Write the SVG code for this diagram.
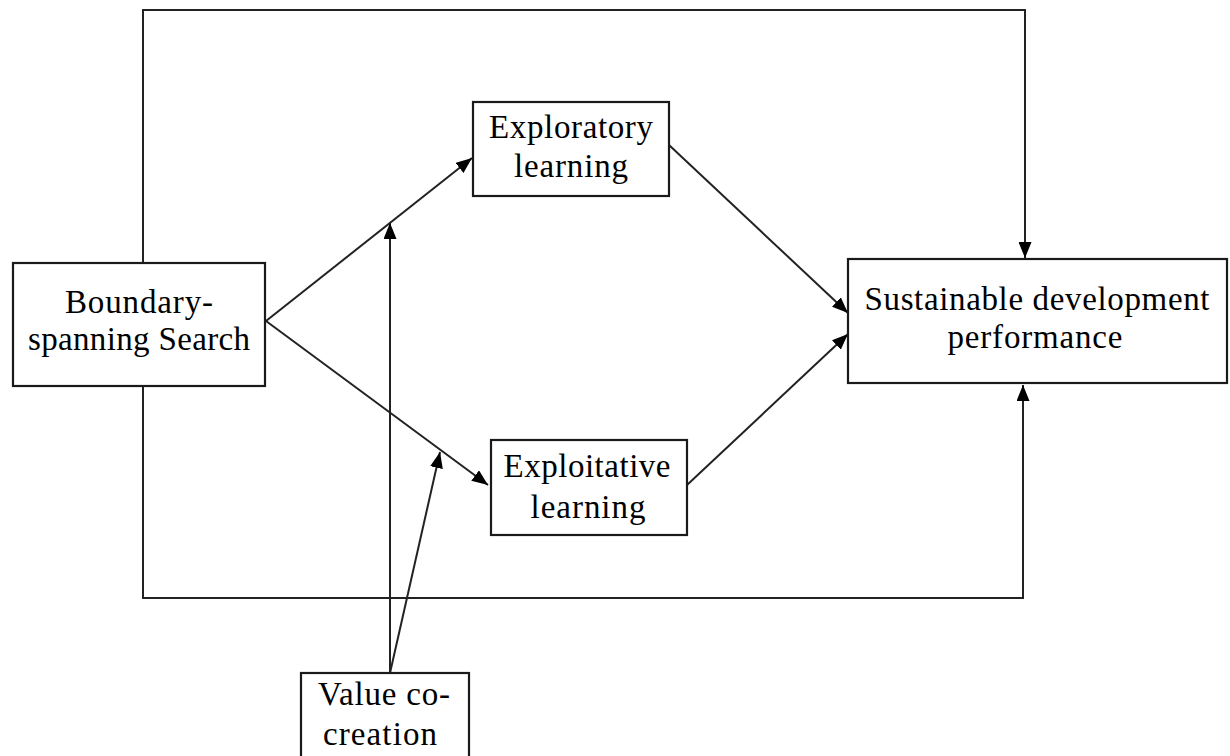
<svg xmlns="http://www.w3.org/2000/svg" width="1230" height="756" viewBox="0 0 1230 756">
<style>
.box{fill:#fff;stroke:#1a1a1a;stroke-width:2.2}
.lbl{font-family:"Liberation Serif","Times New Roman",serif;font-size:33px;fill:#000;text-anchor:middle}
.ln{fill:none;stroke:#222;stroke-width:2}
</style>
<defs>
<marker id="ah" viewBox="0 0 16 13" refX="16" refY="6.5" markerWidth="16" markerHeight="13" markerUnits="userSpaceOnUse" orient="auto">
<path d="M0,0 L16,6.5 L0,13 Z" fill="#000"/>
</marker>
</defs>
<rect width="1230" height="756" fill="#fff"/>
<g id="connectors">
<polyline class="ln" points="143,263 143,10 1025,10 1025,258" marker-end="url(#ah)"/>
<polyline class="ln" points="143,386 143,598 1023,598 1023,385" marker-end="url(#ah)"/>
<line class="ln" x1="266" y1="321" x2="472" y2="158" marker-end="url(#ah)"/>
<line class="ln" x1="266" y1="321" x2="488" y2="485" marker-end="url(#ah)"/>
<line class="ln" x1="669" y1="145" x2="848" y2="313" marker-end="url(#ah)"/>
<line class="ln" x1="687" y1="485" x2="848" y2="334" marker-end="url(#ah)"/>
<line class="ln" x1="390" y1="673" x2="390" y2="223" marker-end="url(#ah)"/>
<line class="ln" x1="390" y1="673" x2="440" y2="452" marker-end="url(#ah)"/>
</g>
<g id="boundary">
<rect class="box" x="13" y="263" width="252" height="123"/>
<text class="lbl" x="139" y="313" textLength="148" lengthAdjust="spacing">Boundary-</text>
<text class="lbl" x="139" y="350" textLength="222" lengthAdjust="spacing">spanning Search</text>
</g>
<g id="exploratory">
<rect class="box" x="473" y="102" width="196" height="94"/>
<text class="lbl" x="571" y="138" textLength="164" lengthAdjust="spacing">Exploratory</text>
<text class="lbl" x="571" y="177" textLength="114" lengthAdjust="spacing">learning</text>
</g>
<g id="exploitative">
<rect class="box" x="491" y="440" width="196" height="95"/>
<text class="lbl" x="587" y="477" textLength="167" lengthAdjust="spacing">Exploitative</text>
<text class="lbl" x="588" y="518" textLength="115" lengthAdjust="spacing">learning</text>
</g>
<g id="sustainable">
<rect class="box" x="848" y="259" width="379" height="124"/>
<text class="lbl" x="1037" y="310" textLength="345" lengthAdjust="spacing">Sustainable development</text>
<text class="lbl" x="1035" y="348" textLength="175" lengthAdjust="spacing">performance</text>
</g>
<g id="valuecocreation">
<rect class="box" x="301" y="673" width="168" height="100"/>
<text class="lbl" x="384" y="705" textLength="132" lengthAdjust="spacing">Value co-</text>
<text class="lbl" x="380" y="745" textLength="114" lengthAdjust="spacing">creation</text>
</g>
</svg>
